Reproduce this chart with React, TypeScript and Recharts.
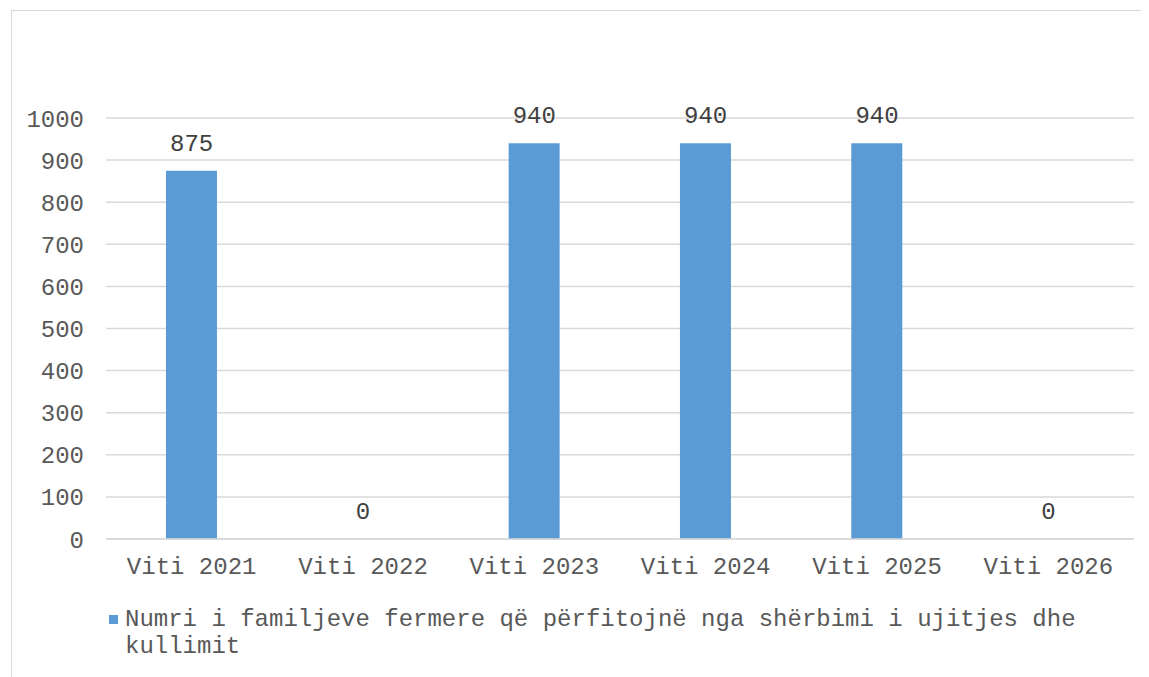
import React from "react";
import { ComposedChart, Bar, Line, XAxis, YAxis, CartesianGrid, Legend, LabelList } from "recharts";

const years = ["Viti 2021", "Viti 2022", "Viti 2023", "Viti 2024", "Viti 2025", "Viti 2026"];
const families = [875, 0, 940, 940, 940, 0];
const yTicks = [0, 100, 200, 300, 400, 500, 600, 700, 800, 900, 1000];
const seriesName =
  "Numri i familjeve fermere që përfitojnë nga shërbimi i ujitjes dhe kullimit";

const FONT = '"Liberation Mono", "Courier New", monospace';
const BLUE = "#5b9bd5";

const data = years.map((year, i) => ({ year, value: families[i] }));

const LegendBox = () => (
  <div
    style={{
      display: "flex",
      alignItems: "flex-start",
      height: 55,
      fontFamily: FONT,
      fontSize: 24,
      lineHeight: "27px",
      color: "#595959",
    }}
  >
    <span
      style={{
        display: "inline-block",
        width: 9,
        height: 9,
        background: BLUE,
        marginTop: 9,
        marginRight: 7,
        flexShrink: 0,
      }}
    />
    <span style={{ width: 990 }}>{seriesName}</span>
  </div>
);

export default function App() {
  return (
    <div
      style={{
        marginLeft: 3,
        marginTop: 2,
        width: 1136,
        height: 680,
        border: "1px solid #d9d9d9",
        background: "#fff",
      }}
    >
      <ComposedChart
        width={1136}
        height={665}
        data={data}
        margin={{ top: 107, right: 14, left: 0, bottom: 15 }}
        barCategoryGap="35%"
      >
        <CartesianGrid vertical={false} stroke="#d9d9d9" strokeWidth={1.5} />
        <XAxis
          dataKey="year"
          height={67}
          axisLine={{ stroke: "#d9d9d9", strokeWidth: 1.5 }}
          tickLine={false}
          tickSize={0}
          tickMargin={18}
          tick={{ fill: "#595959", fontSize: 24, fontFamily: FONT }}
        />
        <YAxis
          width={94}
          domain={[0, 1000]}
          ticks={yTicks}
          axisLine={false}
          tickLine={false}
          tickSize={0}
          tickMargin={22}
          tick={{ fill: "#595959", fontSize: 24, fontFamily: FONT }}
        />
        <Legend
          verticalAlign="bottom"
          align="left"
          content={<LegendBox />}
          wrapperStyle={{ left: 97, width: 1020 }}
        />
        <Bar dataKey="value" name={seriesName} fill={BLUE} isAnimationActive={false} />
        {/* invisible line only to carry the value labels, zeros included */}
        <Line
          dataKey="value"
          stroke="none"
          dot={false}
          activeDot={false}
          legendType="none"
          isAnimationActive={false}
        >
          <LabelList
            dataKey="value"
            position="top"
            offset={20}
            fill="#404040"
            fontSize={24}
            fontFamily={FONT}
          />
        </Line>
      </ComposedChart>
    </div>
  );
}
